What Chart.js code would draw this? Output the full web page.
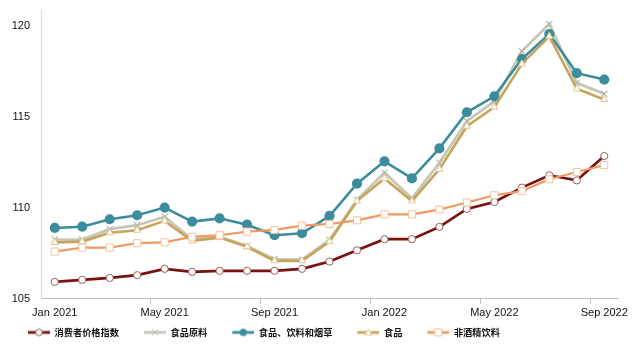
<!DOCTYPE html>
<html>
<head>
<meta charset="utf-8">
<script src="https://cdn.jsdelivr.net/npm/chart.js@4/dist/chart.umd.min.js"></script>
<style>
  html, body { margin: 0; padding: 0; background: #fff; }
  #wrap { width: 640px; height: 354px; }
</style>
</head>
<body>
<div id="wrap"><canvas id="priceChart"></canvas></div>
<script>
const months = ["Jan 2021", "Feb 2021", "Mar 2021", "Apr 2021", "May 2021", "Jun 2021", "Jul 2021",
    "Aug 2021", "Sep 2021", "Oct 2021", "Nov 2021", "Dec 2021", "Jan 2022", "Feb 2022", "Mar 2022",
    "Apr 2022", "May 2022", "Jun 2022", "Jul 2022", "Aug 2022", "Sep 2022"];

const cpi = [105.93, 106.04, 106.15, 106.30, 106.65, 106.48, 106.54, 106.54, 106.54, 106.65, 107.05,
    107.67, 108.28, 108.28, 108.96, 109.95, 110.33, 111.12, 111.80, 111.52, 112.86];
const rawFood = [108.26, 108.26, 108.83, 109.05, 109.52, 108.28, 108.42, 107.90, 107.18, 107.15, 108.25,
    110.45, 111.94, 110.53, 112.49, 114.78, 115.88, 118.63, 120.13, 116.89, 116.28];
const foodBevTobacco = [108.90, 108.97, 109.38, 109.60, 110.02, 109.25, 109.43, 109.08, 108.50, 108.61, 109.56,
    111.34, 112.57, 111.63, 113.28, 115.27, 116.15, 118.20, 119.58, 117.42, 117.07];
const food = [108.10, 108.15, 108.64, 108.77, 109.29, 108.19, 108.37, 107.86, 107.09, 107.09, 108.15,
    110.38, 111.63, 110.38, 112.13, 114.50, 115.55, 117.93, 119.45, 116.56, 115.97];
const softDrinks = [107.60, 107.82, 107.82, 108.06, 108.11, 108.42, 108.50, 108.70, 108.79, 109.03, 109.12,
    109.32, 109.65, 109.65, 109.91, 110.30, 110.70, 110.93, 111.58, 111.98, 112.36];

const yTicks = [105, 110, 115, 120];

// line + marker picture for each legend entry (left part left blank as spacing)
function legendIcon(lineColor, marker, fill, stroke) {
    const c = document.createElement("canvas");
    c.width = 41;
    c.height = 12;
    const g = c.getContext("2d");
    g.strokeStyle = lineColor;
    g.lineWidth = 2.8;
    g.beginPath();
    g.moveTo(19, 6);
    g.lineTo(41, 6);
    g.stroke();
    g.fillStyle = fill;
    g.strokeStyle = stroke;
    g.lineWidth = 1;
    g.beginPath();
    const cx = 30;
    if (marker === "circle") {
        g.arc(cx, 6, 3.3, 0, Math.PI * 2);
        g.fill();
        g.stroke();
    } else if (marker === "cross") {
        g.moveTo(cx - 3, 3); g.lineTo(cx + 3, 9);
        g.moveTo(cx + 3, 3); g.lineTo(cx - 3, 9);
        g.stroke();
    } else if (marker === "triangle") {
        g.moveTo(cx, 2.5); g.lineTo(cx + 3.5, 8.5); g.lineTo(cx - 3.5, 8.5); g.closePath();
        g.fill();
        g.stroke();
    } else if (marker === "rect") {
        g.rect(cx - 3.5, 2.5, 7, 7);
        g.fill();
        g.stroke();
    }
    return c;
}

const icons = [
    legendIcon("#7a1010", "circle", "#fff", "#9e5a5a"),
    legendIcon("#c6c6b8", "cross", "#fff", "#b8b8a8"),
    legendIcon("#3b8c9c", "circle", "#3b8c9c", "#3b8c9c"),
    legendIcon("#c8a45a", "triangle", "#fff", "#e0c690"),
    legendIcon("#ee9a65", "rect", "#fff", "#f5c09c")
];

const ctx = document.getElementById("priceChart").getContext("2d");

new Chart(ctx, {
    type: "line",
    data: {
        labels: months,
        datasets: [{
            label: "消费者价格指数",
            data: cpi,
            borderColor: "#7a1010",
            borderWidth: 2.7,
            pointStyle: "circle",
            pointRadius: 3.6,
            pointBackgroundColor: "#fff",
            pointBorderColor: "#9e5a5a",
            pointBorderWidth: 1,
            order: 5
        }, {
            label: "食品原料",
            data: rawFood,
            borderColor: "#c6c6b8",
            borderWidth: 2.8,
            pointStyle: "crossRot",
            pointRadius: 4.5,
            pointBorderColor: "#b8b8a8",
            pointBorderWidth: 1.2,
            order: 4
        }, {
            label: "食品、饮料和烟草",
            data: foodBevTobacco,
            borderColor: "#3b8c9c",
            borderWidth: 2.6,
            pointStyle: "circle",
            pointRadius: 3.8,
            pointBackgroundColor: "#3b8c9c",
            pointBorderColor: "#3b8c9c",
            order: 3
        }, {
            label: "食品",
            data: food,
            borderColor: "#c8a45a",
            borderWidth: 2.6,
            pointStyle: "triangle",
            pointRadius: 4,
            pointBackgroundColor: "#fff",
            pointBorderColor: "#e0c690",
            pointBorderWidth: 1,
            order: 2
        }, {
            label: "非酒精饮料",
            data: softDrinks,
            borderColor: "#ee9a65",
            borderWidth: 2.2,
            pointStyle: "rect",
            pointRadius: 5,
            pointBackgroundColor: "#fff",
            pointBorderColor: "#f5c09c",
            pointBorderWidth: 1,
            order: 1
        }]
    },
    options: {
        responsive: true,
        maintainAspectRatio: false,
        animation: false,
        layout: {
            padding: { left: 3, right: 22, top: 10, bottom: 7 }
        },
        scales: {
            x: {
                offset: true,
                afterFit: function (scale) { scale.height = 23; },
                border: { color: "#bfbfbf", width: 1 },
                grid: {
                    offset: true,
                    drawOnChartArea: false,
                    drawTicks: true,
                    tickLength: 5,
                    color: function (c) {
                        return (c.index > 0 && c.index < months.length && c.index % 4 === 0) ? "#bfbfbf" : "rgba(0,0,0,0)";
                    }
                },
                ticks: {
                    autoSkip: false,
                    maxRotation: 0,
                    padding: 3,
                    color: "#111",
                    font: { family: "'Liberation Sans', Arial, sans-serif", size: 11 },
                    callback: function (value, index) {
                        return index % 4 === 0 ? this.getLabelForValue(value) : "";
                    }
                }
            },
            y: {
                min: 105,
                max: 120.9,
                afterFit: function (scale) {
                    scale.width = 38;
                    scale.paddingTop = 0;
                    scale.paddingBottom = 0;
                },
                afterBuildTicks: function (scale) {
                    scale.ticks = yTicks.map(v => ({ value: v }));
                },
                border: { color: "#d9d9d9", width: 1 },
                grid: { drawOnChartArea: false, drawTicks: false },
                ticks: {
                    padding: 11,
                    color: "#111",
                    font: { family: "'Liberation Sans', Arial, sans-serif", size: 11 }
                }
            }
        },
        plugins: {
            tooltip: { enabled: false },
            legend: {
                position: "bottom",
                align: "start",
                labels: {
                    usePointStyle: true,
                    pointStyleWidth: 41,
                    padding: 6,
                    color: "#111",
                    font: { family: "'Noto Sans CJK SC', sans-serif", size: 9.2, weight: "bold" },
                    sort: (a, b) => a.datasetIndex - b.datasetIndex,
                    generateLabels: function (chart) {
                        const items = Chart.defaults.plugins.legend.labels.generateLabels(chart);
                        items.forEach(item => { item.pointStyle = icons[item.datasetIndex]; });
                        return items;
                    }
                }
            }
        }
    }
});
</script>
</body>
</html>
